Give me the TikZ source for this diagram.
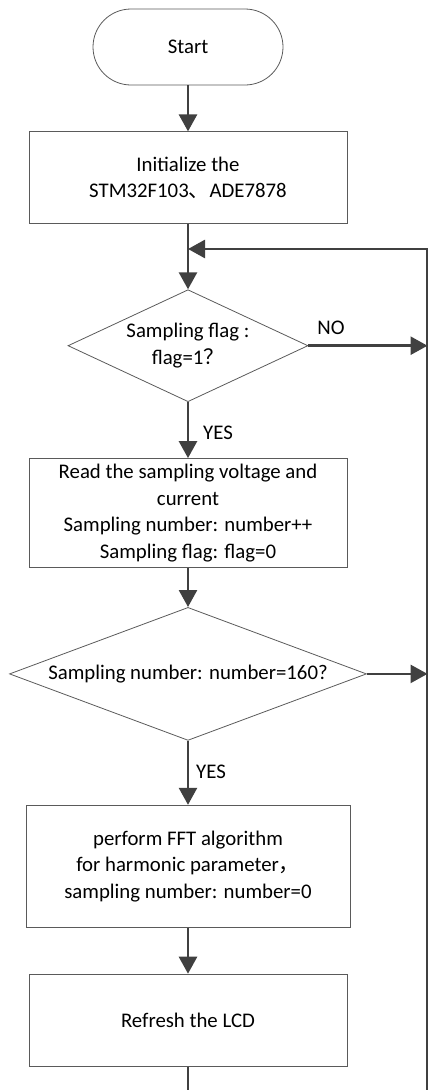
\documentclass[tikz,border=0pt]{standalone}
\usepackage{fontspec}
\setmainfont{Carlito}
\newfontfamily\cjk{Noto Sans CJK SC}
\usetikzlibrary{positioning,shapes.geometric,arrows.meta}
\definecolor{linegray}{HTML}{404040}
\definecolor{boxgray}{HTML}{5A5A5A}
\tikzset{
  proc/.style={draw=boxgray, line width=0.9pt, minimum width=318pt, align=center, inner sep=0pt},
  term/.style={draw=boxgray, line width=0.8pt, rounded corners=38pt, minimum width=190pt, minimum height=76pt},
  decide/.style={draw=boxgray, line width=0.8pt, diamond, inner sep=0pt},
  flow/.style={draw=linegray, line width=2.7pt, -{Triangle[length=17pt,width=18pt]}},
  link/.style={draw=linegray, line width=2.7pt},
  lbl/.style={inner sep=0pt}
}
\begin{document}
\begin{tikzpicture}[x=1pt, y=1pt, font=\fontsize{20.8}{26.5}\selectfont]
  \useasboundingbox (0,0) rectangle (428,-1090);
  \node[term] (start) at (188,-47) {Start};
  \node[proc, minimum height=92pt, below=46pt of start] (init) {Initialize the\\STM32F103{\cjk 、}ADE7878};
  \node[decide, minimum width=240pt, minimum height=112pt, below=65pt of init] (flag)
    {\makebox[0pt]{\begin{tabular}{@{}c@{}}Sampling flag :\\flag=1{\cjk ？}\end{tabular}}};
  \node[proc, minimum height=109pt, below=56pt of flag] (read)
    {Read the sampling voltage and\\current\\Sampling number: number++\\Sampling flag: flag=0};
  \node[decide, minimum width=357pt, minimum height=133pt, below=39pt of read] (count)
    {\makebox[0pt]{Sampling number: number=160?}};
  \node[proc, minimum width=324pt, minimum height=122pt, below=64pt of count] (fft)
    {perform FFT algorithm\\for harmonic parameter{\cjk ，}\\sampling number: number=0};
  \node[proc, minimum height=92pt, below=46pt of fft] (lcd) {Refresh the LCD};
  \node[lbl] (no1) at (331,-328) {NO};
  \node[lbl] (yes1) at (218,-433) {YES};
  \node[lbl] (yes2) at (211,-772) {YES};
  \coordinate (merge) at (188,-249);
  \coordinate (rtop) at (427.5,-249);
  \coordinate (rbot) at (427.5,-1090);
  \draw[flow] (start) -- (init);
  \draw[flow] (init) -- (flag);
  \draw[flow] (flag) -- (read);
  \draw[flow] (read) -- (count);
  \draw[flow] (count) -- (fft);
  \draw[flow] (fft) -- (lcd);
  \draw[link] (lcd.south) -- (lcd.south |- rbot);
  \draw[flow] (flag.east) -- (flag.east -| rtop);
  \draw[flow] (count.east) -- (count.east -| rtop);
  \draw[flow] (rbot) -- (rtop) -- (merge);
\end{tikzpicture}
\end{document}
